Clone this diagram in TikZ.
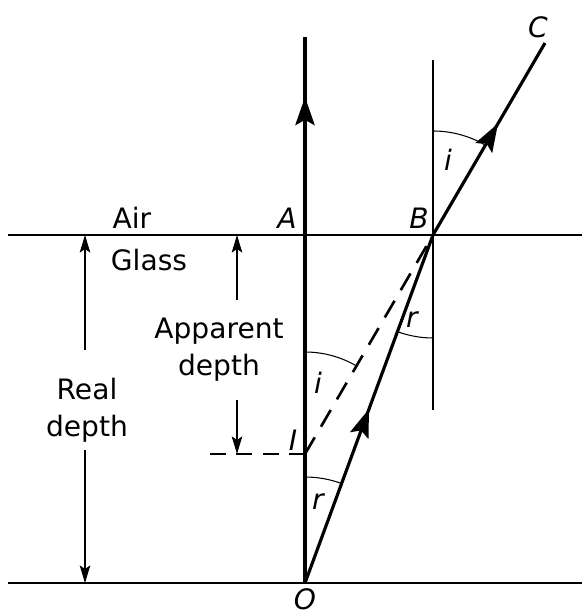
\documentclass[tikz,border=0pt]{standalone}
\usepackage{fontspec}
\setmainfont{DejaVu Sans}
\usetikzlibrary{arrows.meta, calc, decorations.markings}

\begin{document}
\begin{tikzpicture}[x=0.02cm, y=0.02cm,
  ray/.style={line width=1.8pt},
  midarrow/.style={postaction={decorate}, decoration={markings,
    mark=at position #1 with {\arrow{Stealth[length=16pt, width=11pt, inset=3pt]}}}},
  surface/.style={line width=1.3pt},
  normal/.style={line width=1.1pt},
  dim/.style={line width=0.6pt, -{Stealth[length=10pt, width=6pt, inset=2pt]}},
  anglearc/.style={line width=0.6pt},
  lbl/.style={font=\fontsize{16}{21}\selectfont, inner sep=0pt, align=center},
  pt/.style={font=\fontsize{16}{18}\selectfont\itshape, inner sep=0pt},
  gap/.style={minimum height=2cm, inner sep=0pt, outer sep=0pt}
]
  \useasboundingbox (0,0) rectangle (582,616);

  % Points
  \coordinate (O) at (305,33);
  \coordinate (A) at (305,381);
  \coordinate (B) at (433,381);
  \coordinate (C) at (545,573);
  \coordinate (I) at (305,162);
  \coordinate (top) at (305,579);
  \coordinate (ntop) at (433,556);
  \coordinate (nbot) at (433,206);
  \coordinate (surfL) at (8,381);
  \coordinate (surfR) at (582,381);
  \coordinate (baseL) at (8,33);
  \coordinate (baseR) at (582,33);
  \coordinate (dashL) at (200,162);

  % Surfaces and normal
  \draw[surface] (surfL) -- (surfR);
  \draw[surface] (baseL) -- (baseR);
  \draw[normal] (nbot) -- (ntop);

  % Rays
  \draw[ray, midarrow=0.89] (O) -- (top);
  \draw[ray, midarrow=0.5] (O) -- (B);
  \draw[ray, midarrow=0.58] (B) -- (C);
  \draw[line width=1.5pt, dash pattern=on 11pt off 7pt] (I) -- (B);
  \draw[line width=0.7pt, dash pattern=on 9pt off 6pt] (I) -- (dashL);

  % Angles
  \draw[anglearc] ($(B)+(0,104)$) arc[start angle=90, end angle=59.7, radius=104];
  \draw[anglearc] ($(B)+(0,-103)$) arc[start angle=270, end angle=249.8, radius=103];
  \draw[anglearc] ($(I)+(0,102)$) arc[start angle=90, end angle=59.7, radius=102];
  \draw[anglearc] ($(O)+(0,106)$) arc[start angle=90, end angle=69.8, radius=106];
  \node[pt] (angB1) at (448,456) {i};
  \node[pt] (angB2) at (412,296) {r};
  \node[pt] (angI) at (318,233) {i};
  \node[pt] (angO) at (318,114) {r};

  % Labels
  \node[pt] (labA) at (287,398) {A};
  \node[pt] (labB) at (419,398) {B};
  \node[pt] (labC) at (538,589) {C};
  \node[pt] (labO) at (305,17) {O};
  \node[pt] (labI) at (293,176) {I};
  \node[lbl] (air) at (132,398) {Air};
  \node[lbl] (glass) at (149,356) {Glass};

  % Depths
  \node[lbl] (real) at (87,206) {Real\\depth};
  \node[gap] (realgap) at (85,216) {};
  \draw[dim] (realgap.north) -- (realgap |- B);
  \draw[dim] (realgap.south) -- (realgap |- O);
  \node[lbl] (app) at (219,266) {Apparent\\depth};
  \node[gap] (appgap) at (237,266) {};
  \draw[dim] (appgap.north) -- (appgap |- B);
  \draw[dim] (appgap.south) -- (appgap |- I);
\end{tikzpicture}
\end{document}
